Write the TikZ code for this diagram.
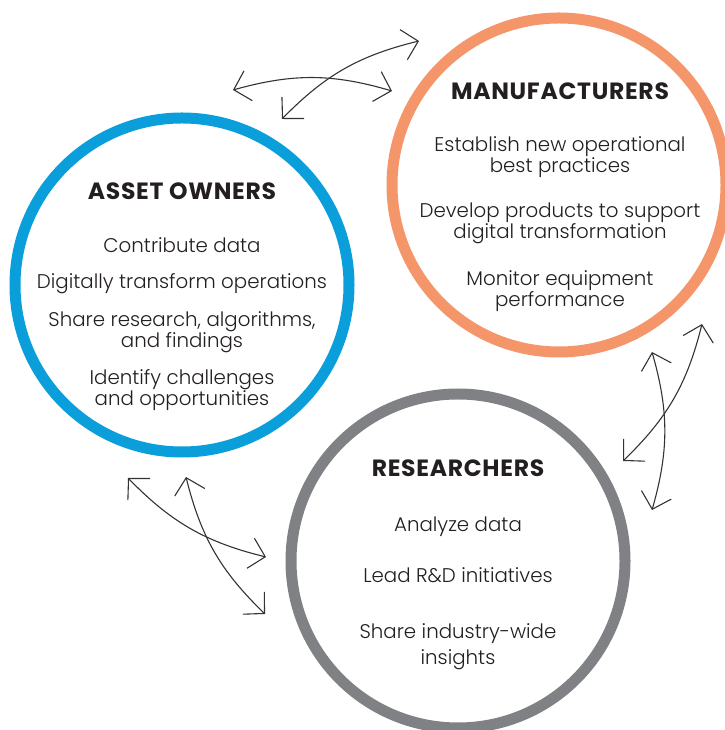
\documentclass[tikz,border=0pt]{standalone}
\usepackage{fontspec}
\setmainfont{Poppins}[UprightFont={* Light}, BoldFont={* Bold}]
\newfontfamily\headfont{Poppins Bold}[LetterSpace=3]
\usepackage{tikz}
\usetikzlibrary{arrows.meta}
\definecolor{aoBlue}{HTML}{0A9FDA}
\definecolor{mfOrange}{HTML}{F4956A}
\definecolor{rsGray}{HTML}{808185}
\definecolor{inkDark}{HTML}{231F20}
\definecolor{linkGray}{HTML}{333333}

\begin{document}
\begin{tikzpicture}[
                x=1pt, y=1pt,
                ring/.style={circle, line width=11pt, minimum size=334pt,
                             inner sep=0pt, fill=white},
                headtext/.style={anchor=base, text=inkDark,
                                 font=\fontsize{23.5}{25}\headfont},
                itemtext/.style={anchor=base, text=inkDark, align=center,
                                 font=\fontsize{19.8}{21.5}\selectfont},
                link/.style={{Straight Barb[length=15pt,width=31pt]}-{Straight Barb[length=15pt,width=31pt]},
                             line width=1.1pt, color=linkGray}
            ]
                \useasboundingbox (0,0) rectangle (724,730);
                \node[ring, draw=aoBlue] (ao) at (182,445) {};
                \node[ring, draw=mfOrange] (mf) at (559,545) {};
                \node[ring, draw=rsGray] (rs) at (458,169) {};

                \node[headtext] (aoHead) at (182,530) {ASSET OWNERS};
                \node[itemtext] (ao1) at (182,477) {Contribute data};
                \node[itemtext] (ao2) at (182,441) {Digitally transform operations};
                \node[itemtext] (ao3) at (182,382) {Share research, algorithms,\\and findings};
                \node[itemtext] (ao4) at (182,324) {Identify challenges\\and opportunities};

                \node[headtext] (mfHead) at (560,630) {MANUFACTURERS};
                \node[itemtext] (mf1) at (560,557) {Establish new operational\\best practices};
                \node[itemtext] (mf2) at (560,491) {Develop products to support\\digital transformation};
                \node[itemtext] (mf3) at (560,423) {Monitor equipment\\performance};

                \node[headtext] (rsHead) at (458,253) {RESEARCHERS};
                \node[itemtext] (rs1) at (458,198) {Analyze data};
                \node[itemtext] (rs2) at (458,147) {Lead R\&D initiatives};
                \node[itemtext] (rs3) at (458,65) {Share industry-wide\\[5pt]insights};

                \coordinate (aoTopA) at (233,640);
                \coordinate (mfTopA) at (392,639);
                \coordinate (aoTopB) at (282,611);
                \coordinate (mfTopB) at (419,689);
                \coordinate (mfSideC) at (652,378);
                \coordinate (rsSideC) at (652,220);
                \coordinate (rsSideD) at (623,269);
                \coordinate (mfSideD) at (702,406);
                \coordinate (aoLowE) at (128,252);
                \coordinate (rsLowE) at (266,173);
                \coordinate (aoLowF) at (186,253);
                \coordinate (rsLowF) at (265,116);

                \draw[link] (aoTopA) to[bend left=16] (mfTopA);
                \draw[link] (aoTopB) to[bend left=16] (mfTopB);
                \draw[link] (mfSideC) to[bend left=16] (rsSideC);
                \draw[link] (rsSideD) to[bend right=16] (mfSideD);
                \draw[link] (aoLowE) to[bend right=16] (rsLowE);
                \draw[link] (aoLowF) to[bend right=16] (rsLowF);
            \end{tikzpicture}
\end{document}
